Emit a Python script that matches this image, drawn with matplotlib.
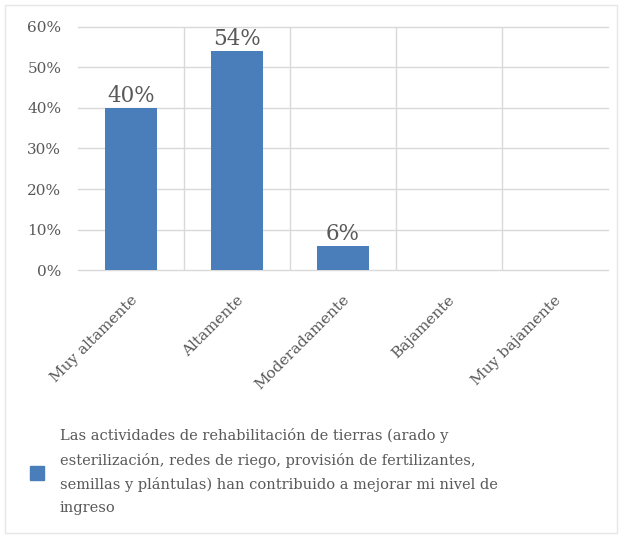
import matplotlib.pyplot as plt
import matplotlib.patches as mpatches
import matplotlib.transforms as mtransforms
import numpy as np

categories = ["Muy altamente", "Altamente", "Moderadamente", "Bajamente", "Muy bajamente"]
values = [40, 54, 6, 0, 0]
yticks = [0, 10, 20, 30, 40, 50, 60]
legend_text = ("Las actividades de rehabilitación de tierras (arado y\n"
               "esterilización, redes de riego, provisión de fertilizantes,\n"
               "semillas y plántulas) han contribuido a mejorar mi nivel de\n"
               "ingreso")

bar_color = "#4a7ebb"
text_color = "#595959"
grid_color = "#d9d9d9"

plt.rcParams['font.family'] = ['DejaVu Serif']

fig = plt.figure(figsize=(6.24, 5.38), dpi=100)
ax = fig.add_axes([0.125, 0.498, 0.849, 0.452])

x = np.arange(len(categories))
ax.bar(x, values, width=0.49, color=bar_color, zorder=3)
for xi, v in zip(x, values):
    if v > 0:
        ax.text(xi, v + 0.2, f"{v}%", ha="center", va="bottom",
                fontsize=15.5, color=text_color, zorder=4)

ax.set_xlim(-0.5, len(categories) - 0.5)
ax.set_ylim(0, 60)
ax.set_yticks(yticks)
ax.set_yticklabels([f"{t}%" for t in yticks], fontsize=11, color=text_color)
for t in yticks:
    ax.axhline(t, color=grid_color, lw=1, zorder=1, clip_on=False)
for b in np.arange(0.5, len(categories) - 1, 1):
    ax.axvline(b, color=grid_color, lw=1, zorder=1)

ax.set_xticks(x)
ax.set_xticklabels(categories, rotation=45, ha="right", va="center",
                   rotation_mode="anchor", fontsize=11, color=text_color)
ax.tick_params(axis="x", length=0, pad=20)
ax.tick_params(axis="y", length=0, pad=12)
shift = mtransforms.ScaledTranslation(4 / 100, 0, fig.dpi_scale_trans)
for lab in ax.get_xticklabels():
    lab.set_transform(lab.get_transform() + shift)
for s in ax.spines.values():
    s.set_visible(False)

# legend
fig.patches.append(mpatches.Rectangle((30 / 624, 1 - 480 / 538), 14 / 624, 14 / 538,
                                      transform=fig.transFigure, color=bar_color))
fig.text(60 / 624, 1 - 428 / 538, legend_text, ha="left", va="top",
         fontsize=10.5, color=text_color, linespacing=1.8)

# chart border
fig.patches.append(mpatches.Rectangle((5 / 624, 5 / 538), 612 / 624, 528 / 538,
                                      transform=fig.transFigure, fill=False,
                                      edgecolor="#e6e6e6", lw=1))

fig.savefig("out.png", dpi=100)
